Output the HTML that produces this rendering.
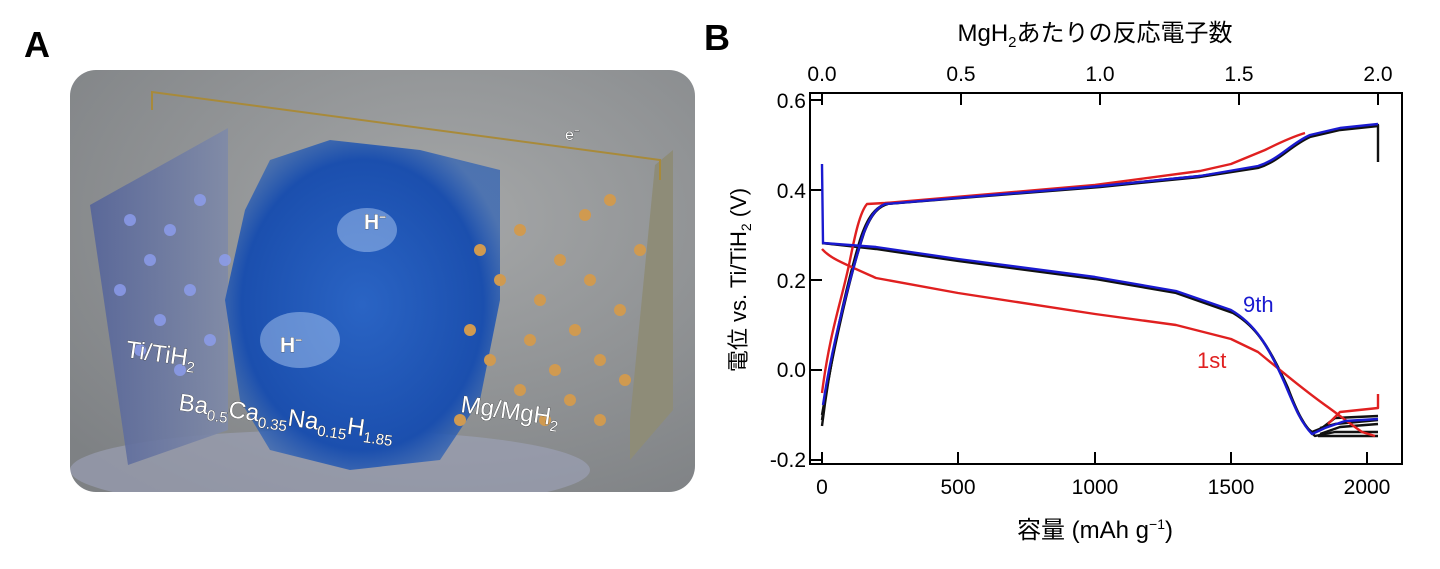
<!DOCTYPE html>
<html><head><meta charset="utf-8"><style>
body{margin:0;background:#fff;width:1440px;height:569px;overflow:hidden;font-family:"Liberation Sans","Noto Sans CJK JP",sans-serif}
svg{position:absolute;left:0;top:0}
</style></head><body>
<svg width="1440" height="569" viewBox="0 0 1440 569" font-family="Liberation Sans, Noto Sans CJK JP, sans-serif">
<defs>
<radialGradient id="bg" cx="0.6" cy="0.35" r="0.8"><stop offset="0" stop-color="#a5a7a8"/><stop offset="1" stop-color="#7e8184"/></radialGradient>
<radialGradient id="blob" cx="0.5" cy="0.5" r="0.55"><stop offset="0" stop-color="#2a64c4"/><stop offset="0.8" stop-color="#1b4fae"/><stop offset="1" stop-color="#2a5fb5" stop-opacity="0.7"/></radialGradient>
<linearGradient id="lp" x1="0" x2="1"><stop offset="0" stop-color="#55649a"/><stop offset="1" stop-color="#7f8aa8"/></linearGradient>
<clipPath id="cr"><rect x="70" y="70" width="625" height="422" rx="26"/></clipPath>
</defs>
<text x="24" y="57" font-size="36" font-weight="bold">A</text>
<g clip-path="url(#cr)">
<rect x="70" y="70" width="625" height="422" fill="url(#bg)"/>
<ellipse cx="330" cy="470" rx="260" ry="40" fill="#9fa4bb" opacity="0.6"/>
<polygon points="90,205 228,128 228,430 128,465" fill="url(#lp)" opacity="0.9"/>
<polygon points="655,165 673,150 673,410 630,460 630,420" fill="#8e8c78"/>
<polyline points="152,110 152,92 660,160 660,180" fill="none" stroke="#a88a3a" stroke-width="2"/>
<polygon points="245,210 270,160 330,140 420,150 500,170 500,300 480,400 440,460 350,470 270,450 240,400 225,300" fill="url(#blob)"/>
<g fill="#d09a50">
<circle cx="480" cy="250" r="6"/><circle cx="500" cy="280" r="6"/><circle cx="520" cy="230" r="6"/><circle cx="540" cy="300" r="6"/><circle cx="560" cy="260" r="6"/><circle cx="575" cy="330" r="6"/><circle cx="590" cy="280" r="6"/><circle cx="600" cy="360" r="6"/><circle cx="620" cy="310" r="6"/><circle cx="610" cy="200" r="6"/><circle cx="585" cy="215" r="6"/><circle cx="470" cy="330" r="6"/><circle cx="490" cy="360" r="6"/><circle cx="520" cy="390" r="6"/><circle cx="545" cy="420" r="6"/><circle cx="570" cy="400" r="6"/><circle cx="600" cy="420" r="6"/><circle cx="460" cy="420" r="6"/><circle cx="530" cy="340" r="6"/><circle cx="555" cy="370" r="6"/><circle cx="625" cy="380" r="6"/><circle cx="640" cy="250" r="6"/>
</g>
<g fill="#8d9ef0" opacity="0.8">
<circle cx="130" cy="220" r="6"/><circle cx="150" cy="260" r="6"/><circle cx="170" cy="230" r="6"/><circle cx="190" cy="290" r="6"/><circle cx="160" cy="320" r="6"/><circle cx="200" cy="200" r="6"/><circle cx="210" cy="340" r="6"/><circle cx="180" cy="370" r="6"/><circle cx="140" cy="350" r="6"/><circle cx="225" cy="260" r="6"/><circle cx="120" cy="290" r="6"/>
</g>
<ellipse cx="367" cy="230" rx="30" ry="22" fill="#cde4ff" opacity="0.4"/>
<ellipse cx="300" cy="340" rx="40" ry="28" fill="#cde4ff" opacity="0.4"/>
<g fill="#fff" stroke="#333" stroke-width="0.6" paint-order="stroke">
<text x="364" y="229" font-size="21" font-weight="bold">H<tspan font-size="12" dy="-8">−</tspan></text>
<text x="280" y="352" font-size="21" font-weight="bold">H<tspan font-size="12" dy="-8">−</tspan></text>
<text x="125" y="357" font-size="24" transform="rotate(8 125 357)">Ti/TiH<tspan font-size="15" dy="6">2</tspan></text>
<text x="178" y="410" font-size="24" transform="rotate(8 178 410)">Ba<tspan font-size="15" dy="6">0.5</tspan><tspan dy="-6">Ca</tspan><tspan font-size="15" dy="6">0.35</tspan><tspan dy="-6">Na</tspan><tspan font-size="15" dy="6">0.15</tspan><tspan dy="-6">H</tspan><tspan font-size="15" dy="6">1.85</tspan></text>
<text x="460" y="412" font-size="24" transform="rotate(8 460 412)">Mg/MgH<tspan font-size="15" dy="6">2</tspan></text>
<text x="565" y="140" font-size="16">e<tspan font-size="10" dy="-6">−</tspan></text>
</g>
</g>

<text x="704" y="50" font-size="36" font-weight="bold">B</text>
<text x="1095" y="41" font-size="24" text-anchor="middle">MgH<tspan font-size="15" dy="6">2</tspan><tspan dy="-6">あたりの反応電子数</tspan></text>
<g font-size="21" text-anchor="middle">
<text x="822" y="81">0.0</text><text x="961" y="81">0.5</text><text x="1100" y="81">1.0</text><text x="1239" y="81">1.5</text><text x="1378" y="81">2.0</text>
<text x="822" y="494">0</text><text x="958" y="494">500</text><text x="1095" y="494">1000</text><text x="1231" y="494">1500</text><text x="1367" y="494">2000</text>
</g>
<g font-size="21" text-anchor="end">
<text x="806" y="108">0.6</text><text x="806" y="198">0.4</text><text x="806" y="288">0.2</text><text x="806" y="377">0.0</text><text x="806" y="467">-0.2</text>
</g>
<text transform="translate(746 280) rotate(-90)" font-size="22" text-anchor="middle">電位 vs. Ti/TiH<tspan font-size="14" dy="5">2</tspan><tspan dy="-5"> (V)</tspan></text>
<text x="1095" y="538" font-size="24" text-anchor="middle">容量 (mAh g<tspan font-size="14" dy="-9">−1</tspan><tspan dy="9">)</tspan></text>
<rect x="810" y="93" width="592" height="371" fill="none" stroke="#000" stroke-width="2"/>
<g stroke="#000" stroke-width="2">
<line x1="822" y1="93" x2="822" y2="105"/><line x1="961" y1="93" x2="961" y2="105"/><line x1="1100" y1="93" x2="1100" y2="105"/><line x1="1239" y1="93" x2="1239" y2="105"/><line x1="1378" y1="93" x2="1378" y2="105"/>
<line x1="822" y1="464" x2="822" y2="452"/><line x1="958" y1="464" x2="958" y2="452"/><line x1="1095" y1="464" x2="1095" y2="452"/><line x1="1231" y1="464" x2="1231" y2="452"/><line x1="1367" y1="464" x2="1367" y2="452"/>
<line x1="810" y1="100" x2="822" y2="100"/><line x1="810" y1="190" x2="822" y2="190"/><line x1="810" y1="280" x2="822" y2="280"/><line x1="810" y1="370" x2="822" y2="370"/><line x1="810" y1="460" x2="822" y2="460"/>
</g>
<g fill="none" stroke-width="2.4" stroke-linejoin="round">
<g stroke="#111">
<path d="M822,426 C830,360 845,290 860,240 C868,215 876,208 885,204 L1100,186 L1200,176 L1258,167 C1280,160 1290,145 1310,136 L1340,129 L1378,125 L1378,162"/>
<path d="M822,420 C832,350 848,280 862,236 C870,214 878,207 886,204 L1100,187 L1200,177 L1258,168 C1280,161 1290,146 1310,137 L1340,130 L1378,126"/>
<path d="M822,415 C834,345 850,275 864,233 C872,212 880,206 888,204"/>
<path d="M822,243 L876,248 L958,260 L1095,278 L1176,292 L1231,311 C1255,325 1268,345 1286,385 C1296,410 1302,425 1312,432 L1322,428 L1335,418 L1378,416"/>
<path d="M822,243 L876,249 L958,261 L1095,279 L1176,293 L1233,313 C1257,327 1270,348 1288,388 C1297,412 1305,428 1315,436 L1335,432 L1378,432"/>
<path d="M1320,428 L1335,424 L1378,420 M1320,434 L1340,427 L1378,424 M1318,436 L1345,436 L1378,436"/>
</g>
<g stroke="#e02020">
<path d="M822,393 C830,330 842,300 850,260 C855,235 860,212 867,204 L885,203 L1095,185 L1200,171 L1231,164 L1265,150 C1285,140 1295,136 1305,133"/>
<path d="M822,249 C830,258 840,262 876,278 L958,293 L1095,314 L1176,325 L1231,339 L1258,352 C1280,370 1300,387 1325,405 C1335,412 1345,420 1362,432 L1375,436"/>
<path d="M1328,424 L1340,412 L1378,408 L1378,394"/>
</g>
<g stroke="#1a1ad0">
<path d="M822,164 L823,243 L876,247 L958,259 L1095,277 L1176,291 L1231,310 C1255,324 1268,345 1285,384 C1295,408 1302,424 1312,434 L1325,428 L1345,421 L1378,419"/>
<path d="M823,405 C832,345 848,285 862,238 C870,214 878,207 885,204 L1100,186 L1200,176 L1258,166 C1280,159 1290,144 1310,135 L1340,128 L1378,124"/>
</g>
</g>
<text x="1243" y="312" font-size="22" fill="#1a1ad0">9th</text>
<text x="1197" y="368" font-size="22" fill="#e02020">1st</text>
</svg>
</body></html>
